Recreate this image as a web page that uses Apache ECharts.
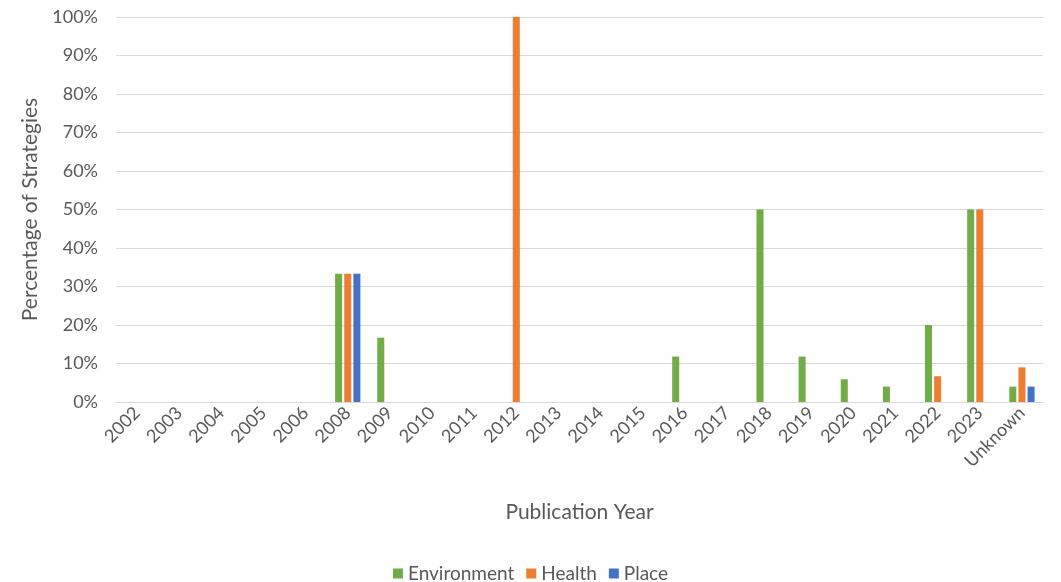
<!DOCTYPE html>
<html>
<head>
<meta charset="utf-8">
<script src="https://cdn.jsdelivr.net/npm/echarts@6/dist/echarts.min.js"></script>
<style>
  html, body { margin: 0; padding: 0; background: #fff; }
  #chart { width: 1061px; height: 582px; }
</style>
</head>
<body>
<div id="chart"></div>
<script>
// Publication years (category axis)
const years = ['2002','2003','2004','2005','2006','2008','2009','2010','2011','2012','2013','2014','2015','2016','2017','2018','2019','2020','2021','2022','2023','Unknown'];

// Share of strategies per year, in percent
const environment = [0,0,0,0,0,33.3,16.7,0,0,0,0,0,0,11.8,0,50,11.8,5.9,4,20,50,4];
const health      = [0,0,0,0,0,33.3,0,0,0,100,0,0,0,0,0,0,0,0,0,6.7,50,9];
const place       = [0,0,0,0,0,33.3,0,0,0,0,0,0,0,0,0,0,0,0,0,0,0,4];

const yTicks = [0,10,20,30,40,50,60,70,80,90,100];

const font = 'Lato, "Liberation Sans", sans-serif';
const chart = echarts.init(document.getElementById('chart'));

chart.setOption({
  animation: false,
  textStyle: { fontFamily: font },
  color: ['#70ad47', '#ed7d31', '#4472c4'],
  grid: { left: 116, right: 18, top: 17, bottom: 180, containLabel: false },
  legend: {
    top: 559,
    left: 'center',
    itemWidth: 10,
    itemHeight: 10,
    itemGap: 12,
    icon: 'rect',
    textStyle: { color: '#595959', fontSize: 19, fontFamily: font }
  },
  xAxis: {
    type: 'category',
    data: years,
    name: 'Publication Year',
    nameLocation: 'middle',
    nameGap: 100,
    nameTextStyle: { color: '#595959', fontSize: 21, fontFamily: font },
    axisTick: { show: false },
    axisLine: { lineStyle: { color: '#d9d9d9' } },
    axisLabel: { rotate: 45, color: '#595959', fontSize: 18, margin: 8, interval: 0, fontFamily: font }
  },
  yAxis: {
    type: 'value',
    min: yTicks[0],
    max: yTicks[yTicks.length - 1],
    interval: 10,
    name: 'Percentage of Strategies',
    nameLocation: 'middle',
    nameGap: 75,
    nameTextStyle: { color: '#595959', fontSize: 21, fontFamily: font },
    axisLine: { show: false },
    axisTick: { show: false },
    splitLine: { lineStyle: { color: '#d9d9d9', width: 1 } },
    axisLabel: { color: '#595959', fontSize: 18, margin: 18, formatter: v => v + '%', fontFamily: font }
  },
  series: [
    { name: 'Environment', type: 'bar', data: environment, barGap: '30%', barCategoryGap: '40%' },
    { name: 'Health', type: 'bar', data: health, barGap: '30%', barCategoryGap: '40%' },
    { name: 'Place', type: 'bar', data: place, barGap: '30%', barCategoryGap: '40%' }
  ]
});
</script>
</body>
</html>
